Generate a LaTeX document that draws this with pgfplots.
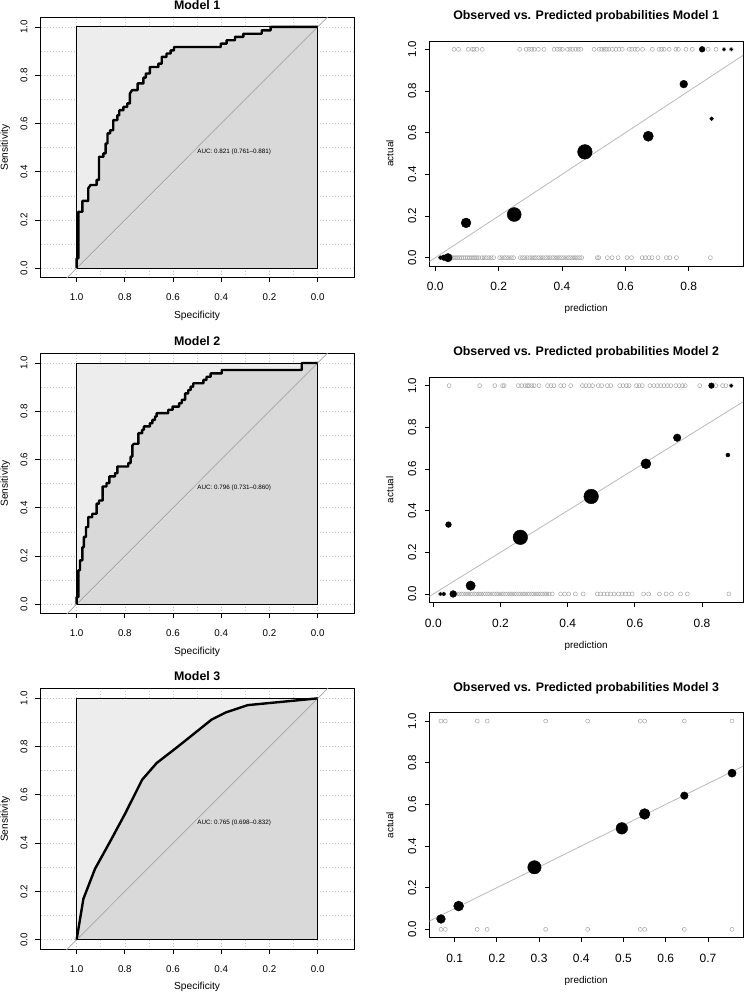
\documentclass[border=0pt]{standalone}
\usepackage{pgfplots}
\usepackage{pgfplotstable}
\pgfplotsset{compat=1.18}
\usepackage{fontspec}
\setmainfont{Liberation Sans}
\newcommand\fs[1]{\fontsize{#1}{#1}\selectfont}
\definecolor{rocLight}{RGB}{237,237,237}
\definecolor{rocDark}{RGB}{217,217,217}
\definecolor{gridc}{RGB}{200,200,200}
\definecolor{diag}{RGB}{165,165,165}
\definecolor{rug}{RGB}{165,165,165}
\definecolor{refl}{RGB}{185,185,185}

\pgfplotstableread{
s n
1.000 0.000
1.000 0.041
0.993 0.041
0.993 0.234
0.976 0.234
0.976 0.279
0.952 0.279
0.952 0.331
0.942 0.345
0.917 0.345
0.917 0.366
0.907 0.366
0.907 0.462
0.889 0.462
0.889 0.476
0.880 0.476
0.880 0.517
0.872 0.517
0.872 0.559
0.861 0.559
0.861 0.572
0.848 0.572
0.848 0.614
0.831 0.614
0.831 0.634
0.823 0.634
0.823 0.655
0.806 0.655
0.806 0.669
0.790 0.669
0.790 0.683
0.779 0.683
0.779 0.724
0.770 0.738
0.747 0.738
0.747 0.766
0.723 0.766
0.723 0.790
0.713 0.790
0.713 0.807
0.696 0.807
0.696 0.834
0.661 0.834
0.661 0.848
0.647 0.848
0.647 0.876
0.627 0.876
0.627 0.890
0.610 0.890
0.610 0.903
0.596 0.903
0.596 0.917
0.402 0.917
0.402 0.931
0.378 0.931
0.378 0.945
0.343 0.945
0.343 0.959
0.308 0.959
0.308 0.972
0.232 0.972
0.232 0.986
0.195 0.986
0.195 1.000
0.000 1.000
}\rocA

\pgfplotstableread{
s n
1.000 0.000
1.000 0.030
0.993 0.030
0.993 0.141
0.986 0.141
0.986 0.182
0.976 0.182
0.976 0.237
0.970 0.237
0.970 0.279
0.961 0.279
0.961 0.320
0.952 0.320
0.952 0.361
0.935 0.361
0.935 0.375
0.917 0.375
0.917 0.417
0.907 0.417
0.907 0.430
0.892 0.430
0.892 0.488
0.876 0.488
0.876 0.502
0.864 0.502
0.864 0.530
0.841 0.530
0.841 0.543
0.831 0.543
0.831 0.571
0.786 0.571
0.786 0.585
0.776 0.585
0.776 0.612
0.769 0.612
0.769 0.658
0.762 0.665
0.744 0.665
0.744 0.709
0.728 0.709
0.728 0.723
0.721 0.723
0.721 0.737
0.696 0.737
0.696 0.750
0.686 0.750
0.686 0.764
0.675 0.764
0.675 0.778
0.668 0.778
0.668 0.792
0.620 0.792
0.620 0.806
0.602 0.806
0.602 0.819
0.575 0.819
0.575 0.833
0.564 0.833
0.564 0.847
0.550 0.847
0.550 0.874
0.537 0.874
0.537 0.888
0.527 0.888
0.527 0.902
0.516 0.902
0.516 0.916
0.474 0.916
0.474 0.930
0.461 0.930
0.461 0.943
0.444 0.943
0.444 0.957
0.398 0.957
0.398 0.971
0.066 0.971
0.066 1.000
0.000 1.000
}\rocB

\pgfplotstableread{
s n
1.000 0.000
0.972 0.169
0.924 0.293
0.862 0.405
0.800 0.520
0.728 0.663
0.668 0.732
0.580 0.800
0.440 0.912
0.380 0.942
0.290 0.972
0.000 1.000
}\rocC

\pgfplotstableread{
x y r
0.016 0 1.8
0.027 0 2.8
0.040 0 4.2
0.097 0.167 4.9
0.249 0.207 7.0
0.472 0.508 7.3
0.672 0.583 5.1
0.784 0.833 3.9
0.842 1.000 2.9
0.872 0.667 1.9
0.911 1.000 1.4
0.934 1.000 1.4
}\calA

\pgfplotstableread{
x y r
0.021 0 1.5
0.031 0 1.8
0.045 0.333 2.9
0.059 0 3.4
0.111 0.040 4.7
0.259 0.272 7.3
0.470 0.468 7.3
0.633 0.625 5.0
0.726 0.750 3.8
0.828 1.000 2.8
0.877 0.667 2.0
0.887 1.000 1.6
}\calB

\pgfplotstableread{
x y r
0.0676 0.050 4.4
0.1095 0.112 5.0
0.289 0.298 6.7
0.496 0.485 5.8
0.550 0.554 5.4
0.644 0.642 3.8
0.757 0.750 4.1
}\calC

\pgfplotstableread{
x y
0.059 1
0.073 1
0.104 1
0.117 1
0.122 1
0.131 1
0.148 1
0.266 1
0.287 1
0.296 1
0.304 1
0.312 1
0.325 1
0.343 1
0.375 1
0.385 1
0.393 1
0.401 1
0.417 1
0.425 1
0.433 1
0.443 1
0.451 1
0.459 1
0.501 1
0.517 1
0.525 1
0.533 1
0.540 1
0.548 1
0.559 1
0.570 1
0.580 1
0.590 1
0.612 1
0.620 1
0.630 1
0.638 1
0.654 1
0.685 1
0.706 1
0.714 1
0.722 1
0.738 1
0.759 1
0.767 1
0.791 1
0.811 1
0.842 1
0.861 1
0.886 1
0.911 1
0.934 1
0.016 0
0.027 0
0.040 0
0.047 0
0.053 0
0.059 0
0.065 0
0.071 0
0.077 0
0.083 0
0.089 0
0.095 0
0.101 0
0.107 0
0.113 0
0.119 0
0.125 0
0.131 0
0.137 0
0.147 0
0.154 0
0.161 0
0.169 0
0.176 0
0.184 0
0.203 0
0.210 0
0.218 0
0.225 0
0.232 0
0.240 0
0.247 0
0.268 0
0.275 0
0.282 0
0.290 0
0.298 0
0.305 0
0.312 0
0.318 0
0.326 0
0.333 0
0.340 0
0.348 0
0.355 0
0.362 0
0.370 0
0.377 0
0.384 0
0.391 0
0.398 0
0.405 0
0.413 0
0.420 0
0.427 0
0.434 0
0.441 0
0.448 0
0.455 0
0.462 0
0.511 0
0.516 0
0.543 0
0.558 0
0.577 0
0.605 0
0.619 0
0.653 0
0.663 0
0.674 0
0.684 0
0.703 0
0.729 0
0.740 0
0.761 0
0.868 0
}\rugA

\pgfplotstableread{
x y
0.047 1
0.138 1
0.183 1
0.206 1
0.211 1
0.253 1
0.263 1
0.273 1
0.280 1
0.285 1
0.293 1
0.300 1
0.315 1
0.340 1
0.350 1
0.359 1
0.379 1
0.389 1
0.409 1
0.444 1
0.454 1
0.464 1
0.474 1
0.491 1
0.501 1
0.518 1
0.528 1
0.555 1
0.565 1
0.575 1
0.583 1
0.605 1
0.613 1
0.622 1
0.645 1
0.657 1
0.667 1
0.677 1
0.687 1
0.697 1
0.707 1
0.722 1
0.732 1
0.742 1
0.750 1
0.793 1
0.828 1
0.841 1
0.861 1
0.871 1
0.887 1
0.021 0
0.026 0
0.031 0
0.059 0
0.065 0
0.071 0
0.077 0
0.084 0
0.090 0
0.097 0
0.103 0
0.110 0
0.116 0
0.123 0
0.129 0
0.136 0
0.142 0
0.149 0
0.155 0
0.162 0
0.168 0
0.176 0
0.182 0
0.189 0
0.195 0
0.202 0
0.208 0
0.215 0
0.221 0
0.228 0
0.234 0
0.241 0
0.247 0
0.254 0
0.260 0
0.267 0
0.273 0
0.280 0
0.286 0
0.293 0
0.299 0
0.306 0
0.312 0
0.319 0
0.325 0
0.332 0
0.338 0
0.345 0
0.354 0
0.379 0
0.391 0
0.403 0
0.423 0
0.446 0
0.488 0
0.498 0
0.508 0
0.518 0
0.528 0
0.538 0
0.551 0
0.562 0
0.572 0
0.582 0
0.592 0
0.626 0
0.641 0
0.673 0
0.693 0
0.709 0
0.736 0
0.756 0
0.880 0
}\rugB

\pgfplotstableread{
x y
0.0676 1
0.0778 1
0.1535 1
0.177 1
0.3155 1
0.415 1
0.5397 1
0.550 1
0.644 1
0.757 1
0.0676 0
0.0778 0
0.1535 0
0.177 0
0.3155 0
0.415 0
0.5397 0
0.550 0
0.644 0
0.757 0
}\rugC

\pgfplotsset{
  base/.style={
    scale only axis,
    axis line style={black, line width=0.9pt},
    tick style={black, line width=0.8pt},
    tick align=outside, major tick length=4.5pt,
    xtick pos=bottom, ytick pos=left,
    ytick={0,0.2,0.4,0.6,0.8,1},
    yticklabels={0.0,0.2,0.4,0.6,0.8,1.0},
    ymin=-0.04, ymax=1.04,
    title style={font=\bfseries\fs{12.4}, at={(axis description cs:0.5,1)}, anchor=base, inner sep=0pt},
    label style={font=\fs{10.2}, inner sep=0pt},
    clip=true,
  },
  roc/.style={base,
    width=314.3pt, height=260.6pt,
    xmin=-0.152, xmax=1.152, x dir=reverse,
    xtick={0,0.2,0.4,0.6,0.8,1},
    xticklabels={0.0,0.2,0.4,0.6,0.8,1.0},
    minor xtick={0.1,0.3,0.5,0.7,0.9},
    minor ytick={0.1,0.3,0.5,0.7,0.9},
    minor tick length=0pt,
    grid=both,
    major grid style={gridc, dash pattern=on 0.8pt off 2.2pt, line width=0.6pt},
    minor grid style={gridc, dash pattern=on 0.8pt off 2.2pt, line width=0.6pt},
    title style={yshift=2pt},
    xlabel={Specificity}, ylabel={Sensitivity},
    xlabel style={at={(axis description cs:0.5,-0.1546)}, anchor=base},
    ylabel style={at={(axis description cs:-0.1018,0.5)}, anchor=base},
    xticklabel style={font=\fs{9.8}, anchor=base, inner sep=0pt, yshift=-18.3pt},
    yticklabel style={font=\fs{9.8}, inner sep=0pt, xshift=-8.2pt, rotate=90, anchor=base},
  },
  cal/.style={base,
    width=313.7pt, height=225pt,
    title style={yshift=15.5pt},
    xlabel={prediction}, ylabel={actual},
    label style={font=\fs{9.9}},
    xlabel style={at={(axis description cs:0.5,-0.2036)}, anchor=base},
    ylabel style={at={(axis description cs:-0.1148,0.5)}, anchor=base},
    xticklabel style={font=\fs{12}, anchor=base, inner sep=0pt, yshift=-20.3pt},
    yticklabel style={font=\fs{11.5}, inner sep=0pt, xshift=-8.8pt, rotate=90, anchor=base},
  },
  bubbles/.style={scatter, only marks, mark=*,
    scatter/use mapped color={draw=black, fill=black},
    visualization depends on={\thisrow{r}\as\rr},
    scatter/@pre marker code/.append style={/tikz/mark size=\rr pt}},
  rugs/.style={only marks, mark=o, mark size=2pt, draw=rug, mark options={line width=0.5pt}},
}

\begin{document}
\begin{tikzpicture}
\path[use as bounding box] (0,0) rectangle (744pt,-992pt);

% ---------- ROC Model 1
\begin{axis}[roc, at={(40pt,-17.3pt)}, anchor=north west, title={Model 1}]
\addplot[fill=rocLight, draw=none] coordinates {(1,0) (1,1) (0,1) (0,0)} -- cycle;
\addplot[fill=rocDark, draw=none] table[x=s,y=n] {\rocA} \closedcycle;
\addplot[draw=black, line width=0.9pt] coordinates {(1,0) (1,1) (0,1) (0,0)} -- cycle;
\addplot[diag, line width=0.7pt] coordinates {(1.3,-0.3) (-0.3,1.3)};
\addplot[black, line width=2.4pt, line join=round] table[x=s,y=n] {\rocA};
\node[anchor=north west, inner sep=0pt, font=\fs{6.3}] at (axis cs:0.5,0.497) {AUC: 0.821 (0.761–0.881)};
\end{axis}

% ---------- ROC Model 2
\begin{axis}[roc, at={(40pt,-353.3pt)}, anchor=north west, title={Model 2}]
\addplot[fill=rocLight, draw=none] coordinates {(1,0) (1,1) (0,1) (0,0)} -- cycle;
\addplot[fill=rocDark, draw=none] table[x=s,y=n] {\rocB} \closedcycle;
\addplot[draw=black, line width=0.9pt] coordinates {(1,0) (1,1) (0,1) (0,0)} -- cycle;
\addplot[diag, line width=0.7pt] coordinates {(1.3,-0.3) (-0.3,1.3)};
\addplot[black, line width=2.4pt, line join=round] table[x=s,y=n] {\rocB};
\node[anchor=north west, inner sep=0pt, font=\fs{6.3}] at (axis cs:0.5,0.497) {AUC: 0.796 (0.731–0.860)};
\end{axis}

% ---------- ROC Model 3
\begin{axis}[roc, at={(40pt,-688.7pt)}, anchor=north west, title={Model 3}]
\addplot[fill=rocLight, draw=none] coordinates {(1,0) (1,1) (0,1) (0,0)} -- cycle;
\addplot[fill=rocDark, draw=none] table[x=s,y=n] {\rocC} \closedcycle;
\addplot[draw=black, line width=0.9pt] coordinates {(1,0) (1,1) (0,1) (0,0)} -- cycle;
\addplot[diag, line width=0.7pt] coordinates {(1.3,-0.3) (-0.3,1.3)};
\addplot[black, line width=2.4pt, line join=round] table[x=s,y=n] {\rocC};
\node[anchor=north west, inner sep=0pt, font=\fs{6.3}] at (axis cs:0.5,0.497) {AUC: 0.765 (0.698–0.832)};
\end{axis}

% ---------- Calibration Model 1
\begin{axis}[cal, at={(429.3pt,-41pt)}, anchor=north west,
  title={Observed vs. Predicted probabilities Model 1},
  xmin=-0.019, xmax=0.971,
  xtick={0,0.2,0.4,0.6,0.8}, xticklabels={0.0,0.2,0.4,0.6,0.8}]
\addplot[refl, line width=0.8pt] coordinates {(-0.2,-0.2) (1.2,1.2)};
\addplot[rugs] table {\rugA};
\addplot[bubbles] table {\calA};
\end{axis}

% ---------- Calibration Model 2
\begin{axis}[cal, at={(429.3pt,-377.3pt)}, anchor=north west,
  title={Observed vs. Predicted probabilities Model 2},
  xmin=-0.012, xmax=0.922,
  xtick={0,0.2,0.4,0.6,0.8}, xticklabels={0.0,0.2,0.4,0.6,0.8}]
\addplot[refl, line width=0.8pt] coordinates {(-0.2,-0.2) (1.2,1.2)};
\addplot[rugs] table {\rugB};
\addplot[bubbles] table {\calB};
\end{axis}

% ---------- Calibration Model 3
\begin{axis}[cal, at={(429.3pt,-712.7pt)}, anchor=north west,
  title={Observed vs. Predicted probabilities Model 3},
  xmin=0.040, xmax=0.783,
  xtick={0.1,0.2,0.3,0.4,0.5,0.6,0.7}, xticklabels={0.1,0.2,0.3,0.4,0.5,0.6,0.7}]
\addplot[refl, line width=0.8pt] coordinates {(-0.2,-0.2) (1.2,1.2)};
\addplot[rugs] table {\rugC};
\addplot[bubbles] table {\calC};
\end{axis}
\end{tikzpicture}
\end{document}
